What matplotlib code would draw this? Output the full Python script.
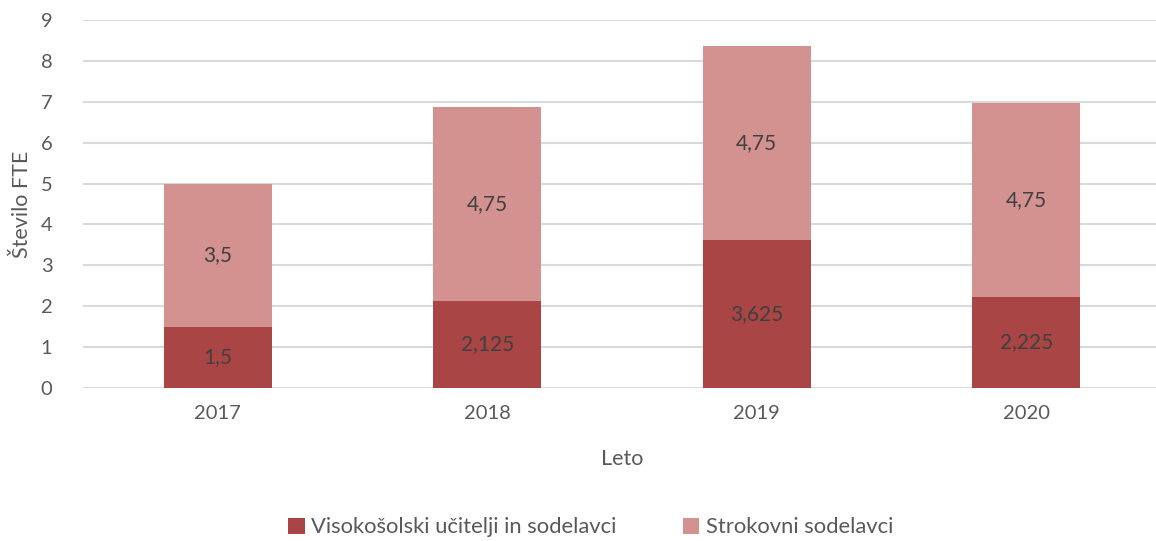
import matplotlib
matplotlib.use("Agg")
import matplotlib.pyplot as plt

years = ["2017", "2018", "2019", "2020"]
visokosolski = [1.5, 2.125, 3.625, 2.225]
strokovni = [3.5, 4.75, 4.75, 4.75]
labels_v = ["1,5", "2,125", "3,625", "2,225"]
labels_s = ["3,5", "4,75", "4,75", "4,75"]

plt.rcParams['font.family'] = ['Lato', 'DejaVu Sans']
txt = '#595959'

fig = plt.figure(figsize=(11.56, 5.41), dpi=100)
ax = fig.add_axes([83/1156, 153/541, 1078/1156, 368/541])

x = range(len(years))
c1 = '#A94544'
c2 = '#D39190'
b1 = ax.bar(x, visokosolski, width=0.4, color=c1, label='Visokošolski učitelji in sodelavci', zorder=3)
b2 = ax.bar(x, strokovni, width=0.4, bottom=visokosolski, color=c2, label='Strokovni sodelavci', zorder=3)
ax.bar_label(b1, labels=labels_v, label_type='center', color='#404040', fontsize=15)
ax.bar_label(b2, labels=labels_s, label_type='center', color='#404040', fontsize=15)

ax.set_xlim(-0.5, 3.5)
ax.set_ylim(0, 9)
ax.set_yticks(range(10))
ax.set_xticks(list(x))
ax.set_xticklabels(years)
ax.grid(axis='y', color='#D9D9D9', linewidth=1.5, zorder=0)
for s in ax.spines.values():
    s.set_visible(False)
ax.tick_params(length=0, labelsize=14.5, colors=txt)
ax.tick_params(axis='y', pad=22)
ax.tick_params(axis='x', pad=12)
ax.set_xlabel('Leto', fontsize=15.5, color=txt, labelpad=20)
ax.set_ylabel('Število FTE', fontsize=15.5, color=txt, labelpad=6)

leg = fig.legend(handles=[b1, b2], loc='center', bbox_to_anchor=(0.511, 0.025), ncol=2,
                 frameon=False, fontsize=15.8, handlelength=0.75, handleheight=0.75,
                 columnspacing=3.0, handletextpad=0.3)
for t in leg.get_texts():
    t.set_color(txt)

fig.savefig('out.png', dpi=100)
